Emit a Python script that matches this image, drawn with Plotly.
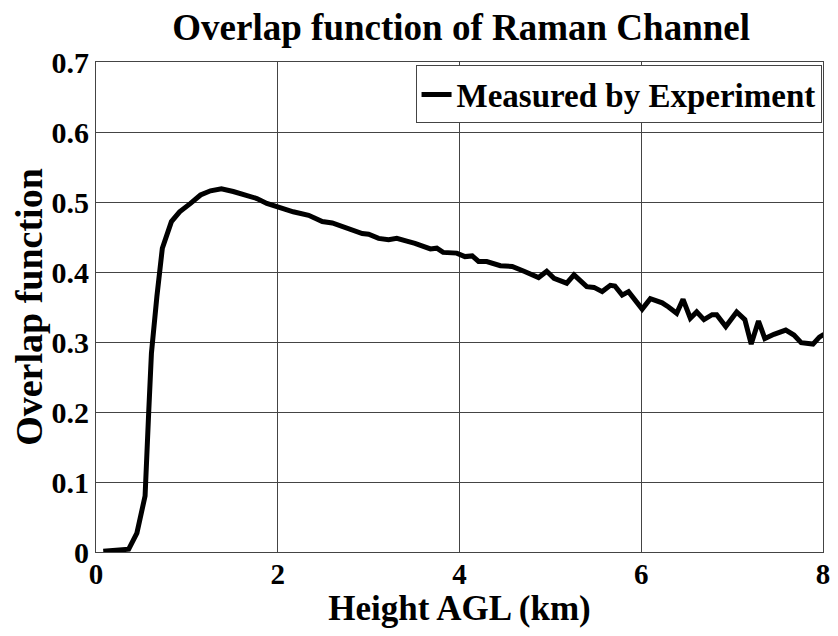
import plotly.graph_objects as go

height_km = [0.08, 0.36, 0.45, 0.54, 0.58, 0.61, 0.67, 0.73, 0.83, 0.92, 1.04, 1.15, 1.26, 1.38,
             1.51, 1.66, 1.77, 1.88, 2.03, 2.17, 2.34, 2.49, 2.60, 2.76, 2.93, 3.00, 3.11, 3.22,
             3.31, 3.42, 3.51, 3.68, 3.75, 3.82, 3.97, 4.06, 4.14, 4.21, 4.30, 4.45, 4.58, 4.71,
             4.87, 4.96, 5.04, 5.18, 5.26, 5.40, 5.48, 5.57, 5.66, 5.71, 5.79, 5.86, 6.01, 6.10,
             6.23, 6.30, 6.39, 6.46, 6.54, 6.61, 6.69, 6.78, 6.83, 6.93, 7.05, 7.14, 7.21, 7.29,
             7.36, 7.46, 7.59, 7.68, 7.76, 7.89, 7.96, 8.01]
overlap = [0.001, 0.004, 0.027, 0.08, 0.2, 0.284, 0.365, 0.434, 0.472, 0.486, 0.498, 0.51, 0.516, 0.519,
           0.515, 0.509, 0.505, 0.498, 0.491, 0.486, 0.481, 0.472, 0.47, 0.462, 0.455, 0.454, 0.448, 0.446,
           0.448, 0.444, 0.441, 0.433, 0.434, 0.428, 0.427, 0.422, 0.423, 0.415, 0.415, 0.409, 0.408, 0.401,
           0.392, 0.401, 0.391, 0.384, 0.396, 0.379, 0.378, 0.372, 0.381, 0.38, 0.367, 0.372, 0.347, 0.362,
           0.356, 0.35, 0.341, 0.361, 0.334, 0.343, 0.332, 0.339, 0.339, 0.322, 0.343, 0.332, 0.297, 0.33,
           0.305, 0.311, 0.317, 0.31, 0.299, 0.297, 0.307, 0.311]

x_ticks = [0, 2, 4, 6, 8]
y_ticks = [0, 0.1, 0.2, 0.3, 0.4, 0.5, 0.6, 0.7]
y_tick_text = ["0", "0.1", "0.2", "0.3", "0.4", "0.5", "0.6", "0.7"]

FONT = "Liberation Serif"

fig = go.Figure()
fig.add_trace(go.Scatter(x=height_km, y=overlap, mode="lines",
                         line=dict(color="black", width=5),
                         name="<b>Measured by Experiment</b>"))

fig.update_layout(
    width=830, height=620,
    margin=dict(l=88, r=15, t=54, b=76),
    paper_bgcolor="white", plot_bgcolor="white",
    font=dict(family=FONT, color="black", size=26),
    title=dict(text="<b>Overlap function of Raman Channel</b>", x=0.546, xanchor="center",
               y=0.970, yanchor="middle", font=dict(family=FONT, size=37, color="black")),
    showlegend=True,
    legend=dict(x=0.998, y=0.993, xanchor="right", yanchor="top", bgcolor="white",
                bordercolor="#444444", borderwidth=1,
                font=dict(family=FONT, size=33, color="black"),
                itemwidth=30, tracegroupgap=0),
)
fig.update_xaxes(range=[0, 8], tickvals=x_ticks, ticktext=["<b>%d</b>" % v for v in x_ticks],
                 showgrid=True, gridcolor="#444444", gridwidth=1,
                 showline=True, linecolor="#444444", linewidth=1, mirror=True,
                 ticks="inside", ticklen=6, tickcolor="#444444", zeroline=False,
                 automargin=False, ticklabelstandoff=-4,
                 tickfont=dict(family=FONT, size=29, color="black"),
                 title=dict(text="<b>Height AGL (km)</b>", standoff=6,
                            font=dict(family=FONT, size=35, color="black")))
fig.update_yaxes(range=[0, 0.7], tickvals=y_ticks, ticktext=["<b>%s</b>" % t for t in y_tick_text],
                 showgrid=True, gridcolor="#444444", gridwidth=1,
                 showline=True, linecolor="#444444", linewidth=1, mirror=True,
                 ticks="inside", ticklen=6, tickcolor="#444444", zeroline=False,
                 automargin=False,
                 tickfont=dict(family=FONT, size=30, color="black"),
                 title=dict(text="<b>Overlap function</b>", standoff=4,
                            font=dict(family=FONT, size=38, color="black")))

fig.write_html("out.html")
